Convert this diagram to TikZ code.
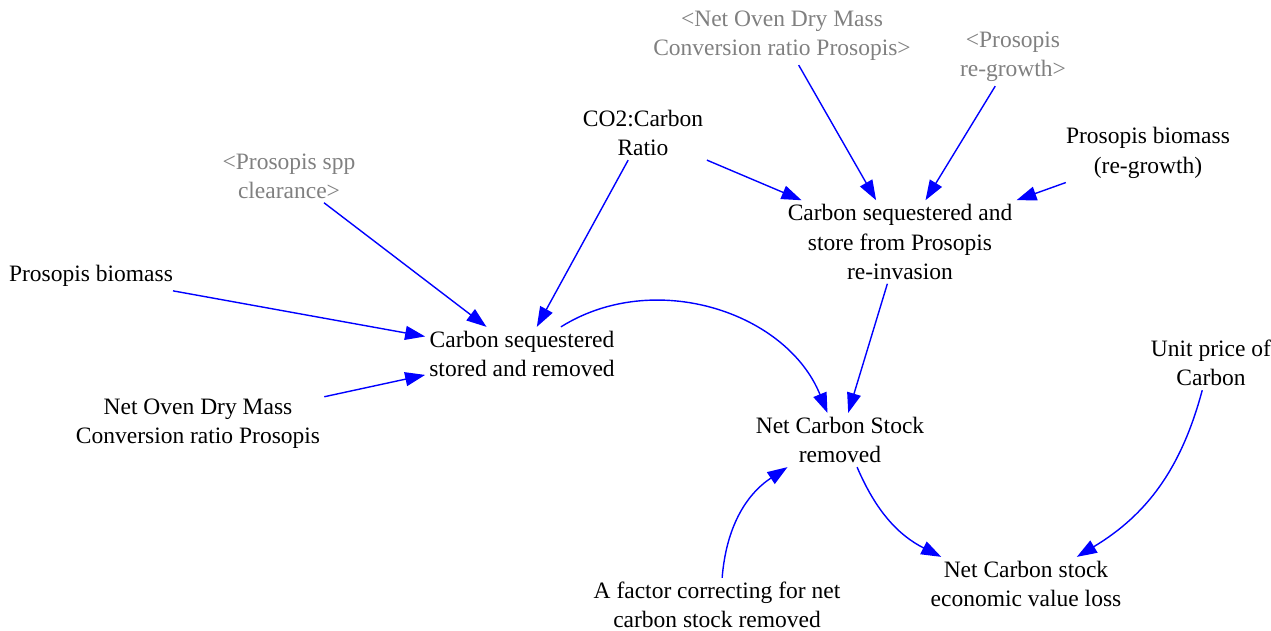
\documentclass[tikz,border=0pt]{standalone}
\usepackage{fontspec}
\setmainfont{Liberation Serif}
\usetikzlibrary{arrows.meta}
\definecolor{linkblue}{RGB}{0,0,255}
\definecolor{shadowgray}{RGB}{128,128,128}
\begin{document}
\begin{tikzpicture}[x=1pt,y=1pt,
  var/.style={align=center, inner sep=4pt, font=\fontsize{23.5}{29.3}\selectfont},
  shadowvar/.style={var, text=shadowgray},
  link/.style={draw=linkblue, line width=1.4pt, -{Triangle[length=20pt,width=14pt]}},
]
\useasboundingbox (0,0) rectangle (1271,-631);

% variables
\node[shadowvar] (ovenS)  at (782,-36)  {<Net Oven Dry Mass\\Conversion ratio Prosopis>};
\node[shadowvar] (regrS)  at (1013,-57) {<Prosopis\\re-growth>};
\node[var]       (co2)    at (643,-133) {CO2:Carbon\\Ratio};
\node[var]       (bioRe)  at (1148,-153){Prosopis biomass\\(re-growth)};
\node[shadowvar] (clear)  at (289,-176) {<Prosopis spp\\clearance>};
\node[var]       (csRe)   at (900,-242) {Carbon sequestered and\\store from Prosopis\\re-invasion};
\node[var]       (bio)    at (91,-276)  {Prosopis biomass};
\node[var]       (cssr)   at (522,-354) {Carbon sequestered\\stored and removed};
\node[var]       (oven)   at (198,-424) {Net Oven Dry Mass\\Conversion ratio Prosopis};
\node[var]       (price)  at (1211,-363){Unit price of\\Carbon};
\node[var]       (ncs)    at (840,-440) {Net Carbon Stock\\removed};
\node[var]       (factor) at (717,-605) {A factor correcting for net\\carbon stock removed};
\node[var]       (loss)   at (1026,-584){Net Carbon stock\\economic value loss};

% links
\draw[link] (ovenS) -- (csRe);
\draw[link] (regrS) -- (csRe);
\draw[link] (co2) -- (csRe);
\draw[link] (bioRe) -- (csRe);
\draw[link] (clear) -- (cssr);
\draw[link] (co2) -- (cssr);
\draw[link] (bio) -- (cssr);
\draw[link] (oven) -- (cssr);
\draw[link] (csRe) -- (ncs);
\draw[link] (cssr) to[bend left=50] (ncs);
\draw[link] (ncs) to[bend right=20] (loss);
\draw[link] (price) to[bend left=22] (loss);
\draw[link] (factor) to[bend left=26] (ncs);
\end{tikzpicture}
\end{document}
